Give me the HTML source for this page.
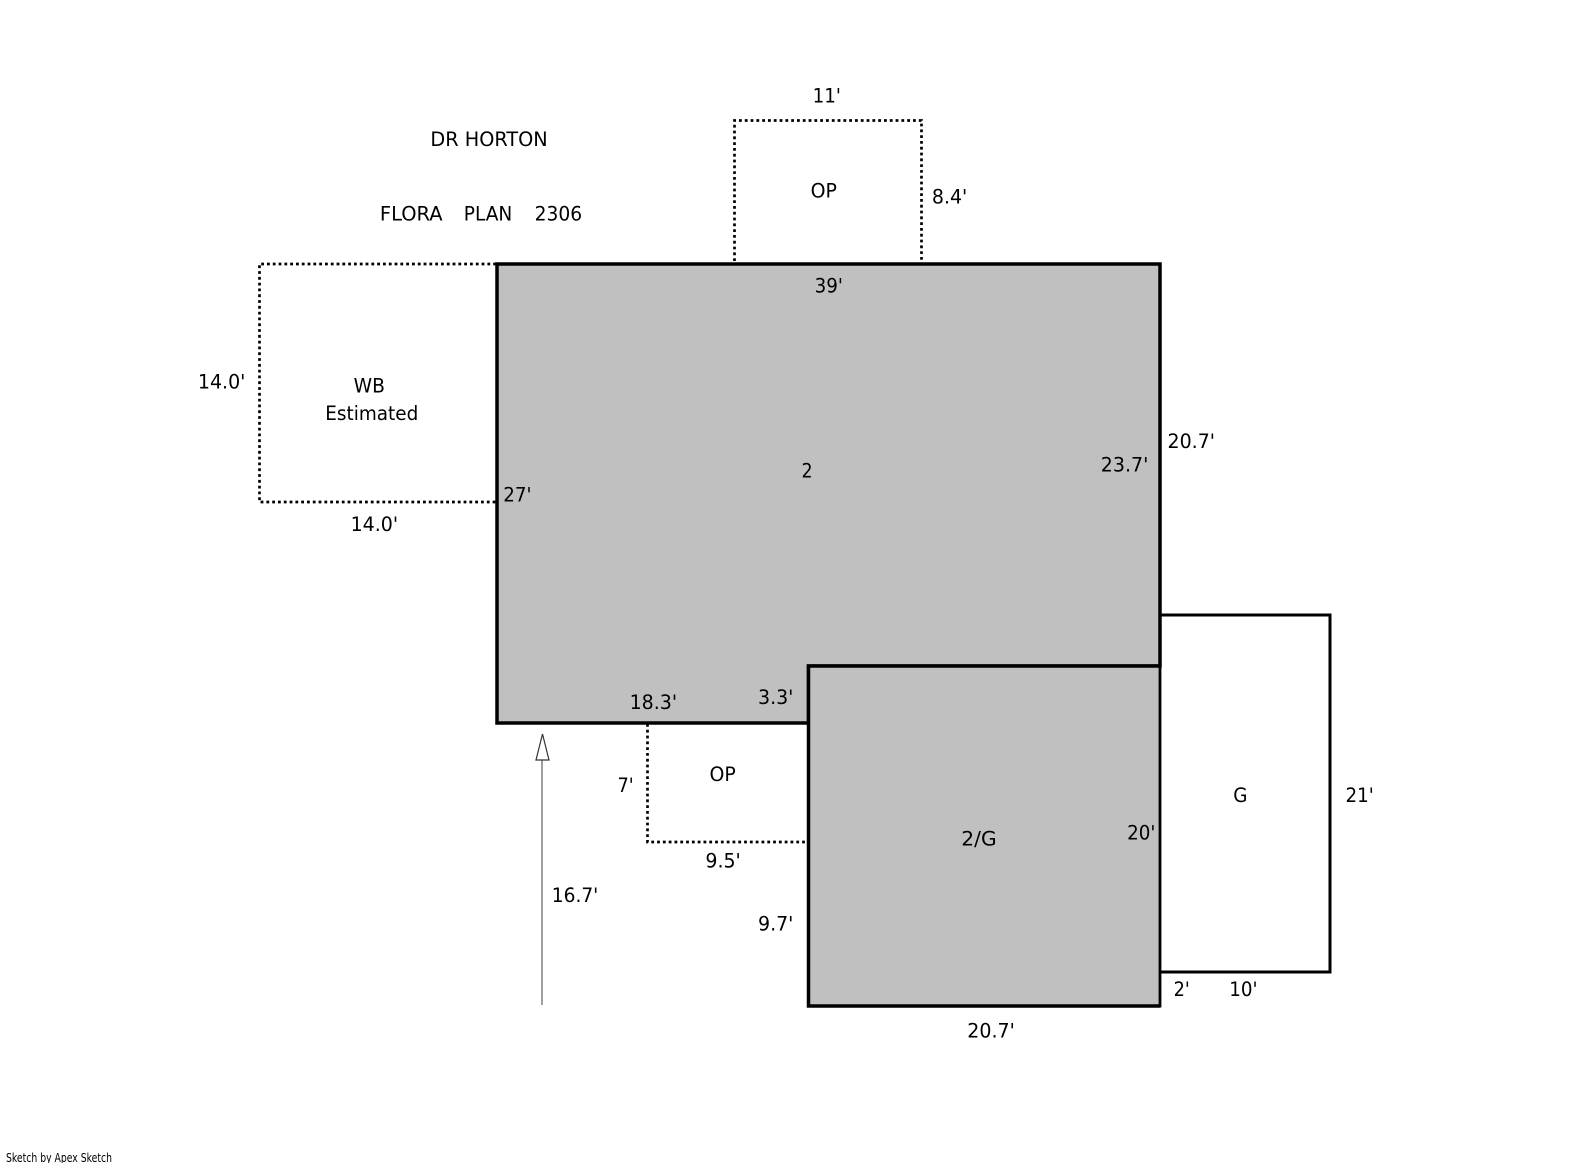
<!DOCTYPE html>
<html><head><meta charset="utf-8"><style>
html,body{margin:0;padding:0;background:#fff}
svg{display:block}
text{font-family:"DejaVu Sans",sans-serif;font-size:19.7px;fill:#000}
</style></head><body>
<svg width="1585" height="1163" viewBox="0 0 1585 1163" xmlns="http://www.w3.org/2000/svg">
<rect width="1585" height="1163" fill="#fff"/>
<!-- dotted -->
<g fill="none" stroke="#000" stroke-width="2.700" stroke-dasharray="2.800 3">
<path d="M496 264H259.500V502H496"/>
<path d="M734.500 261V120.500H921.500V261"/>
<path d="M647.500 724V842H805"/>
</g>
<!-- G -->
<path d="M1160 615H1330V972H1160" fill="#fff" stroke="#000" stroke-width="3"/>
<!-- main -->
<path d="M497 264H1160V666H808.500V723H497Z" fill="#c0c0c0" stroke="#000" stroke-width="3.500" stroke-linejoin="miter"/>
<rect x="808.500" y="666" width="351.500" height="340" fill="#c0c0c0"/>
<path d="M1160 666H808.500V1006H1160" fill="none" stroke="#000" stroke-width="3.500"/>
<path d="M1160 664V1007.500" fill="none" stroke="#000" stroke-width="2.800"/>
<!-- arrow -->
<path d="M542 1005V760" stroke="#808080" stroke-width="1.500" fill="none"/>
<path d="M542.500 734L536 760H549Z" fill="#fff" stroke="#333" stroke-width="1.200"/>
<!-- text -->
<g transform="translate(-0.300 -0.800)">
<text x="430.700" y="146.600" textLength="117.300" lengthAdjust="spacingAndGlyphs">DR HORTON</text>
<text x="380.200" y="221.400" textLength="62.700" lengthAdjust="spacingAndGlyphs">FLORA</text>
<text x="464.100" y="221.400" textLength="48.500" lengthAdjust="spacingAndGlyphs">PLAN</text>
<text x="534.900" y="221.400" textLength="47.500" lengthAdjust="spacingAndGlyphs">2306</text>
<text x="812.900" y="103.100" textLength="28.300" lengthAdjust="spacingAndGlyphs">11'</text>
<text x="810.900" y="198.200" textLength="26.300" lengthAdjust="spacingAndGlyphs">OP</text>
<text x="932.200" y="204.200" textLength="35.400" lengthAdjust="spacingAndGlyphs">8.4'</text>
<text x="814.900" y="293.200" textLength="28.300" lengthAdjust="spacingAndGlyphs">39'</text>
<text x="198.200" y="389.300" textLength="47.500" lengthAdjust="spacingAndGlyphs">14.0'</text>
<text x="353.900" y="393.300" textLength="31.300" lengthAdjust="spacingAndGlyphs">WB</text>
<text x="325.600" y="420.600" textLength="93" lengthAdjust="spacingAndGlyphs">Estimated</text>
<text x="350.900" y="531.800" textLength="47.500" lengthAdjust="spacingAndGlyphs">14.0'</text>
<text x="503.500" y="502.500" textLength="28.300" lengthAdjust="spacingAndGlyphs">27'</text>
<text x="801.800" y="478.200" textLength="11.100" lengthAdjust="spacingAndGlyphs">2</text>
<text x="1101.100" y="472.200" textLength="47.500" lengthAdjust="spacingAndGlyphs">23.7'</text>
<text x="1167.800" y="448.900" textLength="47.500" lengthAdjust="spacingAndGlyphs">20.7'</text>
<text x="629.900" y="709.800" textLength="47.500" lengthAdjust="spacingAndGlyphs">18.3'</text>
<text x="758.300" y="704.700" textLength="35.400" lengthAdjust="spacingAndGlyphs">3.3'</text>
<text x="709.800" y="781.600" textLength="26.300" lengthAdjust="spacingAndGlyphs">OP</text>
<text x="617.800" y="792.700" textLength="16.200" lengthAdjust="spacingAndGlyphs">7'</text>
<text x="705.700" y="868.500" textLength="35.400" lengthAdjust="spacingAndGlyphs">9.5'</text>
<text x="552.100" y="902.900" textLength="46.500" lengthAdjust="spacingAndGlyphs">16.7'</text>
<text x="758.300" y="931.200" textLength="35.400" lengthAdjust="spacingAndGlyphs">9.7'</text>
<text x="961.600" y="846.300" textLength="35.400" lengthAdjust="spacingAndGlyphs">2/G</text>
<text x="1127.400" y="840.200" textLength="28.300" lengthAdjust="spacingAndGlyphs">20'</text>
<text x="1233.500" y="802.800" textLength="14.200" lengthAdjust="spacingAndGlyphs">G</text>
<text x="1345.800" y="802.800" textLength="28.300" lengthAdjust="spacingAndGlyphs">21'</text>
<text x="1173.900" y="996.900" textLength="16.200" lengthAdjust="spacingAndGlyphs">2'</text>
<text x="1229.500" y="996.900" textLength="28.300" lengthAdjust="spacingAndGlyphs">10'</text>
<text x="967.600" y="1038.400" textLength="47.500" lengthAdjust="spacingAndGlyphs">20.7'</text>
</g>
<text x="6" y="1162" textLength="106" lengthAdjust="spacingAndGlyphs" style="font-size:12px">Sketch by Apex Sketch</text>
</svg>
</body></html>
